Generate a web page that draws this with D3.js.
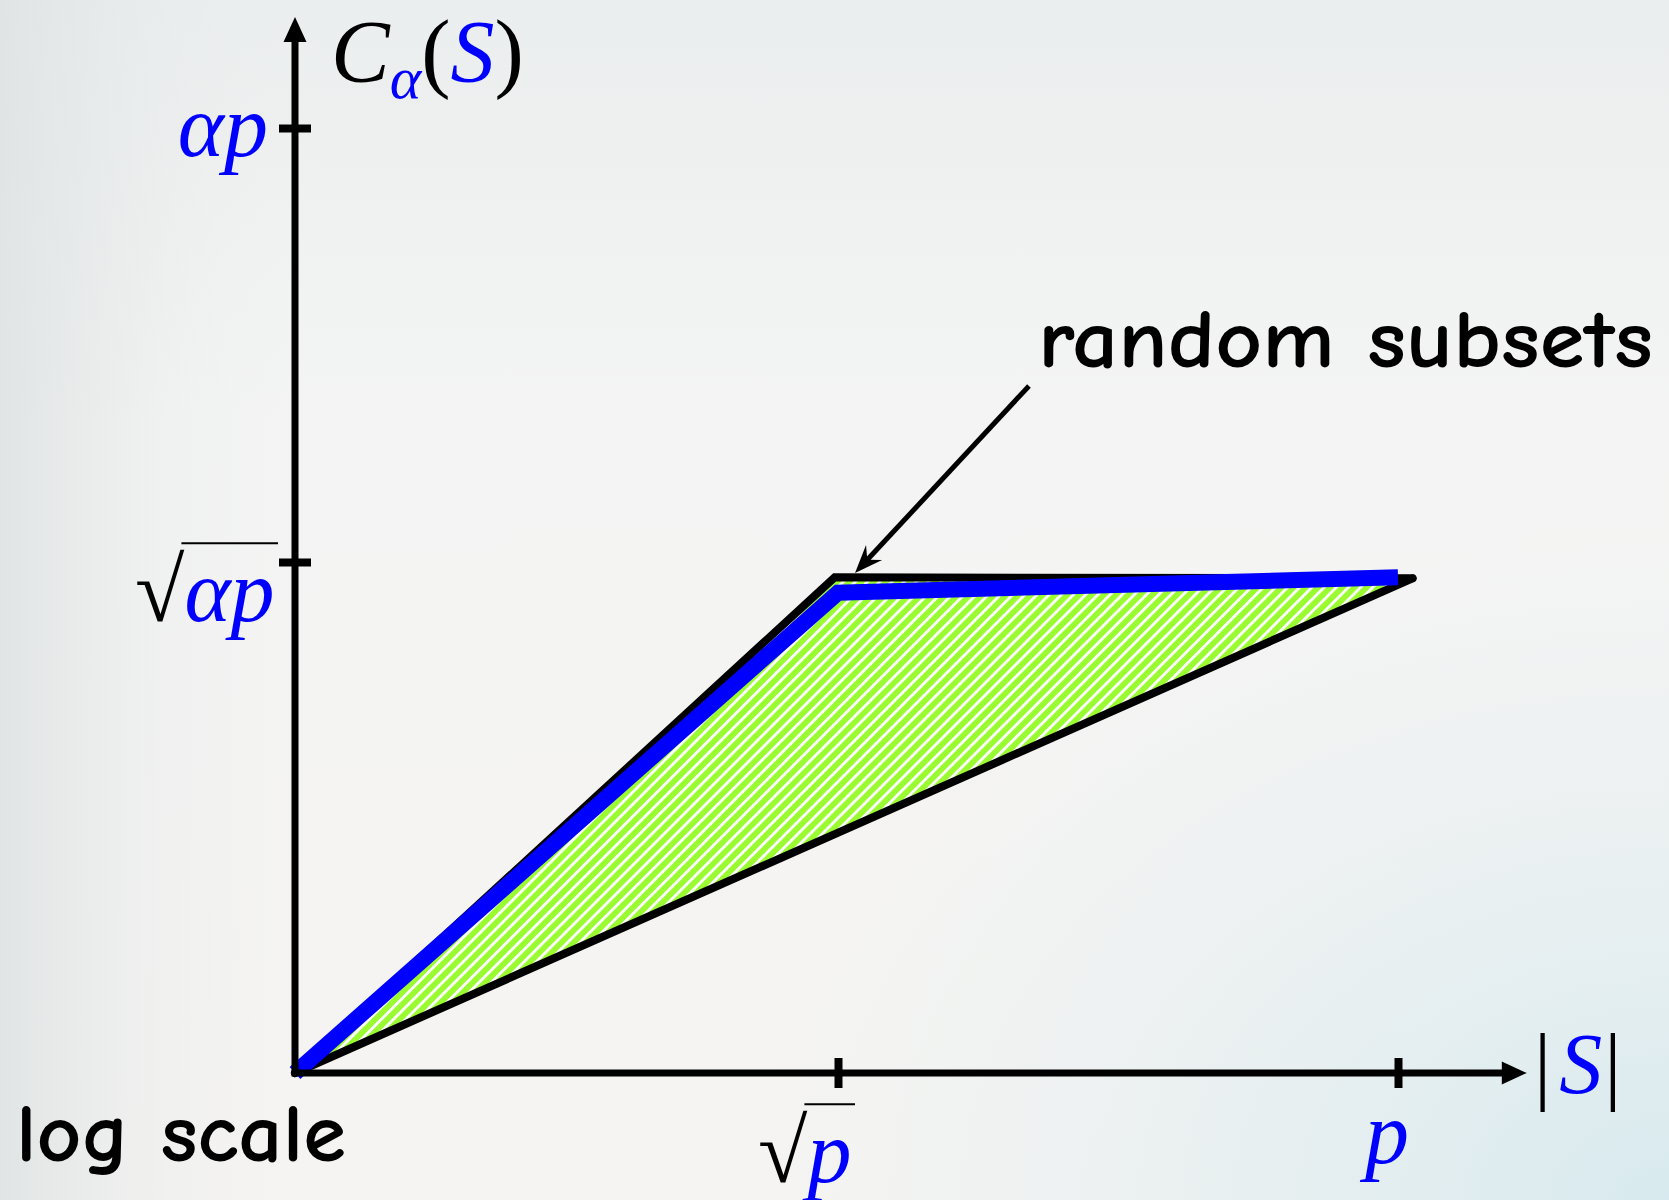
<!DOCTYPE html>
<html>
<head>
<meta charset="utf-8">
<title>Random subsets, log scale</title>
<script src="https://cdn.jsdelivr.net/npm/d3@7"></script>
<style>
  html, body { margin: 0; padding: 0; background: #f3f3f2; }
  svg { display: block; }
  .math { font-family: "Liberation Serif", "Times New Roman", serif; }
  .hand { font-family: "Comic Sans MS", "Comic Neue", Lato, "Open Sans", sans-serif; font-weight: bold; }
</style>
</head>
<body>
<svg id="chart" width="1669" height="1200"></svg>
<script>
// Axes are in log units: |S| as a fraction of log p, C as a fraction of log(ap).
const xTickValues = [0.5, 1];
const xTickRoots  = [true, false];
const xTickLabels = ["p", "p"];
const yTickValues = [0.5, 1];
const yTickRoots  = [true, false];
const yTickLabels = ["\u03b1p", "\u03b1p"];

// Upper envelope (black), lower bound (black) and the random-subsets curve (blue)
const upperBoundX = [0, 0.497, 1.013];
const upperBoundY = [0, 0.485, 0.484];
const lowerBoundX = [1.013, 0];
const lowerBoundY = [0.484, 0];
const randomX = [0, 0.5, 1.0];
const randomY = [0, 0.47, 0.485];

// Annotation arrow (tail, tip) in the same units
const noteTail = [0.6705, 0.7028];
const noteTip  = [0.5152, 0.4892];

const W = 1669, H = 1200;
const svg = d3.select("#chart");

const x = d3.scaleLinear().domain([0, 0.5, 1]).range([295, 838, 1398]);
const y = d3.scaleLinear().domain([0, 0.5, 1]).range([1073, 562, 128]);
const xEnd = 1.115, yEnd = 1.128;   // arrow tips of the axes

const BLUE = "#0000ff";
const GREEN = "#99fb30";

// ---- background ----
const defs = svg.append("defs");
const bgV = defs.append("linearGradient").attr("id", "bgV").attr("x1", 0).attr("y1", 0).attr("x2", 0).attr("y2", 1);
bgV.append("stop").attr("offset", 0).attr("stop-color", "#ebeeee");
bgV.append("stop").attr("offset", 0.35).attr("stop-color", "#f4f4f4");
bgV.append("stop").attr("offset", 1).attr("stop-color", "#f5f4f2");
const bgL = defs.append("linearGradient").attr("id", "bgL").attr("x1", 0).attr("y1", 0).attr("x2", 1).attr("y2", 0);
bgL.append("stop").attr("offset", 0).attr("stop-color", "#dfe3e3").attr("stop-opacity", 0.9);
bgL.append("stop").attr("offset", 0.1).attr("stop-color", "#e6e9e9").attr("stop-opacity", 0.3);
bgL.append("stop").attr("offset", 0.2).attr("stop-color", "#f3f3f3").attr("stop-opacity", 0);
const bgR = defs.append("radialGradient").attr("id", "bgR").attr("cx", 1).attr("cy", 1).attr("r", 0.55);
bgR.append("stop").attr("offset", 0).attr("stop-color", "#d6e9ee").attr("stop-opacity", 0.95);
bgR.append("stop").attr("offset", 1).attr("stop-color", "#e3eef0").attr("stop-opacity", 0);

svg.append("rect").attr("width", W).attr("height", H).attr("fill", "url(#bgV)");
svg.append("rect").attr("width", W).attr("height", H).attr("fill", "url(#bgL)");
svg.append("rect").attr("width", W).attr("height", H).attr("fill", "url(#bgR)");

// ---- hatched region between the bounds ----
const HP = 8.6;
const hatch = defs.append("pattern").attr("id", "hatch")
  .attr("patternUnits", "userSpaceOnUse").attr("width", HP).attr("height", 20)
  .attr("patternTransform", "rotate(45)");
hatch.append("rect").attr("width", HP).attr("height", 20).attr("fill", GREEN);
hatch.append("rect").attr("width", 2.8).attr("height", 20).attr("fill", "#ffffff");

const pts = (xs, ys) => xs.map((v, i) => [x(v), y(ys[i])]);
const line = d3.line();

const region = pts(upperBoundX, upperBoundY);
svg.append("path").attr("d", line(region) + "Z").attr("fill", "url(#hatch)");

// ---- black bounds ----
svg.append("path").attr("d", line(pts(upperBoundX, upperBoundY)))
  .attr("fill", "none").attr("stroke", "#000").attr("stroke-width", 8)
  .attr("stroke-linejoin", "miter").attr("stroke-linecap", "round");
svg.append("path").attr("d", line(pts(lowerBoundX, lowerBoundY)))
  .attr("fill", "none").attr("stroke", "#000").attr("stroke-width", 8)
  .attr("stroke-linecap", "round");

// ---- random subsets curve ----
svg.append("path").attr("d", line(pts(randomX, randomY)))
  .attr("fill", "none").attr("stroke", BLUE).attr("stroke-width", 16)
  .attr("stroke-linejoin", "miter").attr("stroke-linecap", "butt");

// ---- axes ----
const AX = 7;
const x0 = x(0), y0 = y(0);
svg.append("path")
  .attr("d", `M${x0},${y(yEnd) + 20} L${x0},${y0} L${x(xEnd) - 20},${y0}`)
  .attr("fill", "none").attr("stroke", "#000").attr("stroke-width", AX)
  .attr("stroke-linejoin", "miter").attr("stroke-linecap", "square");
// arrowheads
svg.append("path")
  .attr("d", `M${x0},${y(yEnd)} L${x0 + 11.5},${y(yEnd) + 25} L${x0 - 11.5},${y(yEnd) + 25}Z`)
  .attr("fill", "#000");
svg.append("path")
  .attr("d", `M${x(xEnd)},${y0} L${x(xEnd) - 25},${y0 - 11.5} L${x(xEnd) - 25},${y0 + 11.5}Z`)
  .attr("fill", "#000");

// tick marks crossing the axes
const gx = svg.append("g").attr("transform", `translate(0,${y0})`)
  .call(d3.axisBottom(x).tickValues(xTickValues).tickFormat(() => "").tickSizeOuter(0).tickSizeInner(15));
gx.select(".domain").remove();
gx.selectAll(".tick line").attr("y1", -15).attr("y2", 15).attr("stroke", "#000").attr("stroke-width", 8);

const gy = svg.append("g").attr("transform", `translate(${x0},0)`)
  .call(d3.axisLeft(y).tickValues(yTickValues).tickFormat(() => "").tickSizeOuter(0).tickSizeInner(15));
gy.select(".domain").remove();
gy.selectAll(".tick line").attr("x1", -16).attr("x2", 16).attr("stroke", "#000").attr("stroke-width", 8);

// ---- tick labels ----
const FS = 88, RS = 90;       // label size, radical size
const RAD_TOP = 0.865;        // height of the radical's top above the baseline, in em

// radical + label as one text element, with the vinculum over the label
function rootLabel(xLeft, baseline, label, vincEnd) {
  const t = svg.append("text").attr("class", "math").attr("x", xLeft).attr("y", baseline);
  t.append("tspan").attr("font-size", RS).attr("fill", "#000").text("\u221a");
  t.append("tspan").attr("font-size", FS).attr("font-style", "italic").attr("fill", BLUE).text(label);
  const radW = t.node().getSubStringLength(0, 1);
  const top = baseline - RAD_TOP * RS;
  svg.append("line").attr("x1", xLeft + radW - 3).attr("x2", vincEnd)
    .attr("y1", top).attr("y2", top).attr("stroke", "#000").attr("stroke-width", 2);
}

xTickValues.forEach((v, i) => {
  const cx = x(v);
  if (xTickRoots[i]) {
    rootLabel(cx - 80, 1182, xTickLabels[i], cx + 17);
  } else {
    svg.append("text").attr("class", "math").attr("x", cx - 11).attr("y", 1163)
      .attr("text-anchor", "middle").attr("font-size", FS).attr("font-style", "italic")
      .attr("fill", BLUE).text(xTickLabels[i]);
  }
});
yTickValues.forEach((v, i) => {
  const cy = y(v);
  if (yTickRoots[i]) {
    rootLabel(135, cy + 59, yTickLabels[i], 278);
  } else {
    svg.append("text").attr("class", "math").attr("x", 268).attr("y", cy + 28)
      .attr("text-anchor", "end").attr("font-size", FS).attr("font-style", "italic")
      .attr("fill", BLUE).text(yTickLabels[i]);
  }
});

// ---- axis titles ----
const yTitle = svg.append("text").attr("class", "math").attr("x", 331).attr("y", 81).attr("font-size", 88);
yTitle.append("tspan").attr("font-style", "italic").attr("fill", "#000").text("C");
yTitle.append("tspan").attr("font-style", "italic").attr("fill", BLUE).attr("font-size", 60).attr("dy", 17).text("\u03b1");
yTitle.append("tspan").attr("fill", "#000").attr("dy", -17).text("(");
yTitle.append("tspan").attr("font-style", "italic").attr("fill", BLUE).text("S");
yTitle.append("tspan").attr("fill", "#000").text(")");

const xTitle = svg.append("text").attr("class", "math").attr("x", 1534).attr("y", 1093).attr("font-size", 86);
xTitle.append("tspan").attr("fill", "#000").text("|");
xTitle.append("tspan").attr("font-style", "italic").attr("fill", BLUE).attr("dx", 8).text("S");
xTitle.append("tspan").attr("fill", "#000").attr("dx", 2).text("|");

// ---- annotation ----
const T = [x(noteTip[0]), y(noteTip[1])];
const S0 = [x(noteTail[0]), y(noteTail[1])];
const dl = Math.hypot(T[0] - S0[0], T[1] - S0[1]);
const d = [(T[0] - S0[0]) / dl, (T[1] - S0[1]) / dl];
const n = [-d[1], d[0]];
svg.append("line").attr("x1", S0[0]).attr("y1", S0[1])
  .attr("x2", T[0] - d[0] * 16).attr("y2", T[1] - d[1] * 16)
  .attr("stroke", "#000").attr("stroke-width", 5);
const head = [
  T,
  [T[0] - d[0] * 28 + n[0] * 11, T[1] - d[1] * 28 + n[1] * 11],
  [T[0] - d[0] * 18, T[1] - d[1] * 18],
  [T[0] - d[0] * 28 - n[0] * 11, T[1] - d[1] * 28 - n[1] * 11]
];
svg.append("path").attr("d", line(head) + "Z").attr("fill", "#000");

svg.append("text").attr("class", "hand").attr("x", 1038).attr("y", 367)
  .attr("font-size", 82).attr("fill", "#000")
  .attr("textLength", 615).attr("lengthAdjust", "spacingAndGlyphs")
  .text("random subsets");

svg.append("text").attr("class", "hand").attr("x", 16).attr("y", 1161)
  .attr("font-size", 82).attr("fill", "#000")
  .attr("textLength", 330).attr("lengthAdjust", "spacingAndGlyphs")
  .text("log scale");
</script>
</body>
</html>
